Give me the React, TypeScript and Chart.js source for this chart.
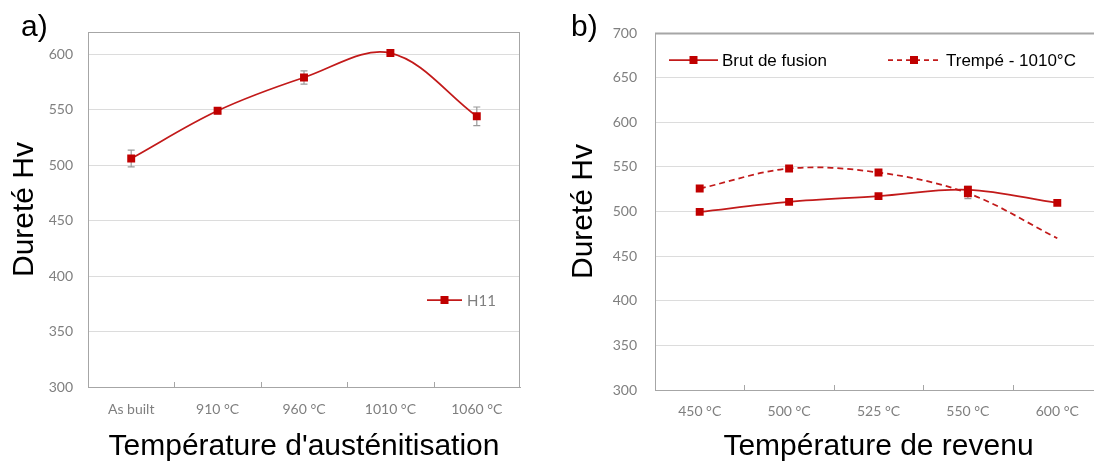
import React, { useEffect, useRef } from "react";
import { Chart, registerables } from "chart.js";

Chart.register(...registerables);

// ---- Data (a) ----
const austCategories = ["As built", "910 °C", "960 °C", "1010 °C", "1060 °C"];
const h11Values = [506, 549, 579, 601, 544];
const h11Errors = [7.5, 2.5, 6, 1.5, 8.4];
const yTicksA = [300, 350, 400, 450, 500, 550, 600];

// ---- Data (b) ----
const revenuCategories = ["450 °C", "500 °C", "525 °C", "550 °C", "600 °C"];
const brutValues = [499.6, 510.8, 517.2, 524.3, 509.7];
const brutErrors = [0, 0, 0, 4, 0];
const trempeValues = [525.7, 548.1, 543.7, 520.5, 470];
const trempeErrors = [0, 0, 0, 6, 0];
const trempeMarkerShown = [true, true, true, true, false];
const yTicksB = [300, 350, 400, 450, 500, 550, 600, 650, 700];

const RED = "#c00000";
const LINE_RED = "#c21a1a";
const AXIS_GREY = "#a6a6a6";
const GRID_GREY = "#dcdcdc";
const TICK_GREY = "#7f7f7f";
const TICK_FONT = { family: "Lato", size: 14 };
const TITLE_FONT = { family: "Liberation Sans", size: 30 };

const errorBarPlugin = {
  id: "errorBars",
  beforeDatasetsDraw(chart: any) {
    const ctx = chart.ctx;
    const yScale = chart.scales.y;
    chart.data.datasets.forEach((ds: any, di: number) => {
      if (!ds.errors) return;
      const meta = chart.getDatasetMeta(di);
      ds.errors.forEach((e: number, i: number) => {
        if (!e) return;
        const pt = meta.data[i];
        const v = ds.data[i];
        const y0 = yScale.getPixelForValue(v - e);
        const y1 = yScale.getPixelForValue(v + e);
        ctx.save();
        ctx.strokeStyle = "#9a9a9a";
        ctx.lineWidth = 1.2;
        ctx.beginPath();
        ctx.moveTo(pt.x, y0);
        ctx.lineTo(pt.x, y1);
        ctx.moveTo(pt.x - 3.5, y0);
        ctx.lineTo(pt.x + 3.5, y0);
        ctx.moveTo(pt.x - 3.5, y1);
        ctx.lineTo(pt.x + 3.5, y1);
        ctx.stroke();
        ctx.restore();
      });
    });
  },
};

const framePlugin = {
  id: "frame",
  afterDraw(chart: any, _args: any, opts: any) {
    const { ctx, chartArea } = chart;
    const xScale = chart.scales.x;
    ctx.save();
    ctx.strokeStyle = AXIS_GREY;
    ctx.lineWidth = opts.topWidth || 1;
    ctx.beginPath();
    ctx.moveTo(chartArea.left, chartArea.top + 0.5);
    ctx.lineTo(chartArea.right, chartArea.top + 0.5);
    if (opts.rightBorder) {
      ctx.moveTo(chartArea.right - 0.5, chartArea.top);
      ctx.lineTo(chartArea.right - 0.5, chartArea.bottom);
    }
    ctx.stroke();
    // category boundary tick marks (inside the plot)
    ctx.lineWidth = 1;
    ctx.beginPath();
    const n = chart.data.labels.length;
    for (let i = 0; i < n - 1; i++) {
      const xa = xScale.getPixelForValue(i);
      const xb = xScale.getPixelForValue(i + 1);
      const xm = Math.round((xa + xb) / 2) + 0.5;
      ctx.moveTo(xm, chartArea.bottom);
      ctx.lineTo(xm, chartArea.bottom - 5);
    }
    ctx.stroke();
    ctx.restore();
  },
};

const innerLegendPlugin = {
  id: "innerLegend",
  afterDraw(chart: any, _args: any, opts: any) {
    const { ctx, chartArea } = chart;
    (opts.items || []).forEach((it: any) => {
      const x0 = chartArea.left + it.x0;
      const x1 = chartArea.left + it.x1;
      const y = chartArea.top + it.y;
      ctx.save();
      ctx.strokeStyle = LINE_RED;
      ctx.lineWidth = 1.75;
      if (it.dash) ctx.setLineDash(it.dash);
      ctx.beginPath();
      ctx.moveTo(x0, y);
      ctx.lineTo(x1, y);
      ctx.stroke();
      ctx.setLineDash([]);
      ctx.fillStyle = RED;
      const xm = (x0 + x1) / 2;
      ctx.fillRect(xm - 4, y - 4, 8, 8);
      ctx.fillStyle = it.color;
      ctx.font = it.font;
      ctx.textBaseline = "middle";
      ctx.textAlign = "left";
      ctx.fillText(it.text, x1 + it.gap, y + 1);
      ctx.restore();
    });
  },
};

function makeYScale(min: number, max: number, ticks: number[], width: number, titlePad: number, tickPad: number) {
  return {
    type: "linear",
    min,
    max,
    afterBuildTicks: (scale: any) => {
      scale.ticks = ticks.map((v) => ({ value: v }));
    },
    afterFit: (scale: any) => {
      scale.width = width;
    },
    grid: { color: GRID_GREY, drawTicks: false, lineWidth: 1 },
    border: { display: true, color: AXIS_GREY, width: 1 },
    ticks: { color: TICK_GREY, font: TICK_FONT, padding: tickPad },
    title: {
      display: true,
      text: "Dureté Hv",
      color: "#000",
      font: TITLE_FONT,
      padding: { top: titlePad, bottom: 0 },
    },
  };
}

function makeXScale(height: number, title: string, tickPad: number) {
  return {
    type: "category",
    offset: true,
    afterFit: (scale: any) => {
      scale.height = height;
    },
    grid: { display: false, drawTicks: false },
    border: { display: true, color: AXIS_GREY, width: 1 },
    ticks: { color: TICK_GREY, font: TICK_FONT, padding: tickPad, maxRotation: 0, autoSkip: false },
    title: {
      display: true,
      text: title,
      color: "#000",
      font: TITLE_FONT,
      padding: { top: 0, bottom: 1 },
    },
  };
}

export default function App() {
  const leftRef = useRef<HTMLCanvasElement | null>(null);
  const rightRef = useRef<HTMLCanvasElement | null>(null);

  useEffect(() => {
    const left = new Chart(leftRef.current as HTMLCanvasElement, {
      type: "line",
      data: {
        labels: austCategories,
        datasets: [
          {
            label: "H11",
            data: h11Values,
            errors: h11Errors,
            borderColor: LINE_RED,
            backgroundColor: RED,
            borderWidth: 1.75,
            pointStyle: "rect",
            pointRadius: 5.6,
            pointBorderWidth: 0,
            pointBackgroundColor: RED,
            tension: 0.35,
          } as any,
        ],
      },
      options: {
        responsive: false,
        animation: false,
        devicePixelRatio: 1,
        layout: { padding: { top: 32, right: 25, left: 0, bottom: 0 } },
        scales: {
          x: makeXScale(79, "Température d'austénitisation", 14) as any,
          y: makeYScale(300, 620, yTicksA, 88, 7, 15) as any,
        },
        plugins: {
          legend: { display: false },
          tooltip: { enabled: false },
          frame: { rightBorder: true, topWidth: 1 },
          innerLegend: {
            items: [
              {
                x0: 339,
                x1: 374,
                y: 268,
                text: "H11",
                gap: 5,
                color: TICK_GREY,
                font: "15px Lato",
              },
            ],
          },
        } as any,
      },
      plugins: [errorBarPlugin, framePlugin, innerLegendPlugin],
    });

    const right = new Chart(rightRef.current as HTMLCanvasElement, {
      type: "line",
      data: {
        labels: revenuCategories,
        datasets: [
          {
            label: "Brut de fusion",
            data: brutValues,
            errors: brutErrors,
            borderColor: LINE_RED,
            backgroundColor: RED,
            borderWidth: 1.75,
            pointStyle: "rect",
            pointRadius: 5.6,
            pointBorderWidth: 0,
            pointBackgroundColor: RED,
            tension: 0.35,
          } as any,
          {
            label: "Trempé - 1010°C",
            data: trempeValues,
            errors: trempeErrors,
            borderColor: LINE_RED,
            backgroundColor: RED,
            borderWidth: 1.75,
            borderDash: [6, 4],
            pointStyle: "rect",
            pointRadius: trempeMarkerShown.map((s) => (s ? 5.6 : 0)),
            pointBorderWidth: 0,
            pointBackgroundColor: RED,
            tension: 0.35,
          } as any,
        ],
      },
      options: {
        responsive: false,
        animation: false,
        devicePixelRatio: 1,
        layout: { padding: { top: 33, right: 18, left: 0, bottom: 0 } },
        scales: {
          x: makeXScale(76, "Température de revenu", 13) as any,
          y: makeYScale(300, 700, yTicksB, 100, 11, 18) as any,
        },
        plugins: {
          legend: { display: false },
          tooltip: { enabled: false },
          frame: { rightBorder: false, topWidth: 2 },
          innerLegend: {
            items: [
              {
                x0: 14,
                x1: 63,
                y: 27,
                text: "Brut de fusion",
                gap: 4,
                color: "#000",
                font: '17px "Liberation Sans"',
              },
              {
                x0: 233,
                x1: 285,
                y: 27,
                text: "Trempé - 1010°C",
                gap: 6,
                color: "#000",
                font: '17px "Liberation Sans"',
                dash: [5, 4],
              },
            ],
          },
        } as any,
      },
      plugins: [errorBarPlugin, framePlugin, innerLegendPlugin],
    });

    return () => {
      left.destroy();
      right.destroy();
    };
  }, []);

  const panelLabel: React.CSSProperties = {
    position: "absolute",
    top: 11,
    font: '30px "Liberation Sans", Arial, sans-serif',
    lineHeight: 1,
    color: "#000",
  };

  return (
    <div
      style={{
        position: "absolute",
        left: 0,
        top: 0,
        width: 1094,
        height: 466,
        overflow: "hidden",
        background: "#fff",
      }}
    >
      <canvas ref={leftRef} width={545} height={466} style={{ position: "absolute", left: 0, top: 0 }} />
      <canvas ref={rightRef} width={565} height={466} style={{ position: "absolute", left: 555, top: 0 }} />
      <div style={{ ...panelLabel, left: 21 }}>a)</div>
      <div style={{ ...panelLabel, left: 571 }}>b)</div>
    </div>
  );
}
